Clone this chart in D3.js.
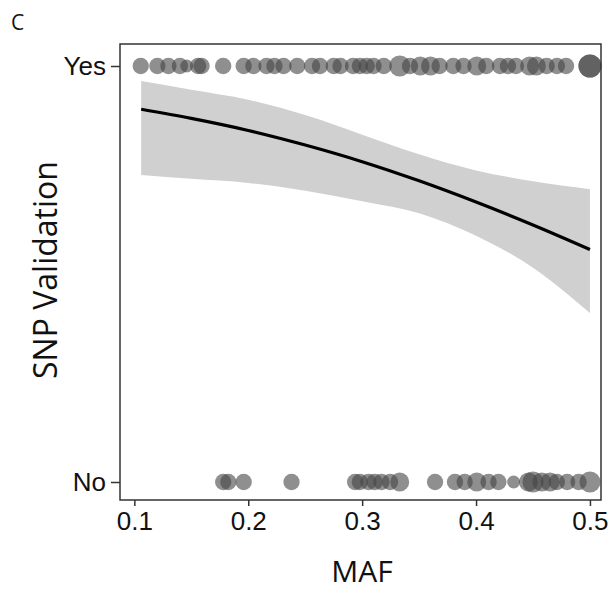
<!DOCTYPE html>
<html>
<head>
<meta charset="utf-8">
<script src="https://cdn.jsdelivr.net/npm/d3@7"></script>
<style>
  body { margin: 0; background: #fff; }
  svg { font-family: "Open Sans", sans-serif; }
</style>
</head>
<body>
<div id="chart"></div>
<script>
// SNP validated (Yes) / not validated (No) by MAF, size = read depth class
const yesMaf = [0.1056, 0.1202, 0.1299, 0.140, 0.146, 0.156, 0.159, 0.178, 0.196, 0.2045,
  0.216, 0.223, 0.231, 0.243, 0.256, 0.263, 0.275, 0.281, 0.292, 0.298,
  0.304, 0.310, 0.319, 0.333, 0.342, 0.351, 0.360, 0.368, 0.380, 0.389,
  0.4006, 0.409, 0.421, 0.428, 0.435, 0.447, 0.453, 0.462, 0.471, 0.479, 0.5, 0.5]
const yesSize = [2, 2, 2, 2, 1, 2, 2, 2, 2, 2,
  2, 2, 2, 2, 2, 2, 2, 2, 2, 2,
  2, 2, 2, 4, 2, 3, 3, 2, 2, 2,
  3, 2, 2, 2, 2, 3, 3, 2, 2, 2, 5, 5]

const noMaf = [0.178, 0.1825, 0.196, 0.238, 0.2938, 0.298, 0.3055, 0.311, 0.317, 0.3245, 0.333,
  0.364, 0.3815, 0.390, 0.4006, 0.411, 0.4196, 0.433, 0.446, 0.450, 0.4577,
  0.465, 0.471, 0.480, 0.490, 0.500]
const noSize = [2, 2, 2, 2, 2, 2, 2, 2, 2, 2, 3,
  2, 2, 2, 3, 2, 2, 1, 3, 4, 3,
  3, 2, 2, 2, 4]

// logistic fit and confidence band
const fitMaf = [0.106, 0.15, 0.2, 0.25, 0.3, 0.35, 0.4, 0.45, 0.5]
const fitProb = [0.896, 0.874, 0.845, 0.810, 0.770, 0.724, 0.673, 0.618, 0.559]
const fitUpper = [0.964, 0.943, 0.919, 0.882, 0.835, 0.788, 0.749, 0.723, 0.704]
const fitLower = [0.738, 0.729, 0.719, 0.700, 0.675, 0.646, 0.592, 0.515, 0.406]

const xTicks = [0.1, 0.2, 0.3, 0.4, 0.5]
const yLabels = ["No", "Yes"]

const dimensions = {
  width: 612,
  height: 592,
  margin: { top: 44, right: 11, bottom: 92, left: 120 },
}
dimensions.boundedWidth = dimensions.width - dimensions.margin.left - dimensions.margin.right
dimensions.boundedHeight = dimensions.height - dimensions.margin.top - dimensions.margin.bottom

const wrapper = d3.select("#chart")
  .append("svg")
  .attr("width", dimensions.width)
  .attr("height", dimensions.height)

const bounds = wrapper.append("g")
  .attr("transform", `translate(${dimensions.margin.left},${dimensions.margin.top})`)

const xScale = d3.scaleLinear()
  .domain([0.0874, 0.5097])
  .range([0, dimensions.boundedWidth])
const yScale = d3.scaleLinear()
  .domain([0, 1])
  .range([438, 22])
const rScale = d3.scaleSqrt()
  .domain([1, 5])
  .range([6.5, 11.5])

// confidence band
const fitData = fitMaf.map((m, i) => ({ maf: m, p: fitProb[i], lo: fitLower[i], hi: fitUpper[i] }))

bounds.append("path")
  .datum(fitData)
  .attr("fill", "#d0d0d0")
  .attr("d", d3.area()
    .x(d => xScale(d.maf))
    .y0(d => yScale(d.lo))
    .y1(d => yScale(d.hi))
    .curve(d3.curveMonotoneX))

bounds.append("path")
  .datum(fitData)
  .attr("fill", "none")
  .attr("stroke", "#000")
  .attr("stroke-width", 3.2)
  .attr("d", d3.line()
    .x(d => xScale(d.maf))
    .y(d => yScale(d.p))
    .curve(d3.curveMonotoneX))

// points
const points = yesMaf.map((m, i) => ({ maf: m, v: 1, size: yesSize[i] }))
  .concat(noMaf.map((m, i) => ({ maf: m, v: 0, size: noSize[i] })))

bounds.selectAll("circle")
  .data(points)
  .join("circle")
  .attr("cx", d => xScale(d.maf))
  .attr("cy", d => yScale(d.v))
  .attr("r", d => rScale(d.size))
  .attr("fill", "#444")
  .attr("fill-opacity", 0.6)

// panel border
bounds.append("rect")
  .attr("width", dimensions.boundedWidth)
  .attr("height", dimensions.boundedHeight)
  .attr("fill", "none")
  .attr("stroke", "#333")
  .attr("stroke-width", 1.5)

const xAxis = bounds.append("g")
  .attr("transform", `translate(0,${dimensions.boundedHeight})`)
  .call(d3.axisBottom(xScale).tickValues(xTicks).tickSize(6).tickPadding(6).tickFormat(d3.format(".1f")))
xAxis.select(".domain").remove()
xAxis.selectAll("line").attr("stroke", "#333").attr("stroke-width", 1.5)
xAxis.selectAll("text").attr("fill", "#111").style("font-size", "26px")

const yAxis = bounds.append("g")
  .call(d3.axisLeft(yScale).tickValues([0, 1]).tickSize(9).tickPadding(5).tickFormat(d => yLabels[d]))
yAxis.select(".domain").remove()
yAxis.selectAll("line").attr("stroke", "#333").attr("stroke-width", 1.5)
yAxis.selectAll("text").attr("fill", "#111").style("font-size", "26px")

wrapper.append("text")
  .attr("x", 362)
  .attr("y", 582)
  .attr("text-anchor", "middle")
  .attr("fill", "#111")
  .style("font-size", "30px")
  .text("MAF")

wrapper.append("text")
  .attr("transform", "translate(57,270) rotate(-90)")
  .attr("text-anchor", "middle")
  .attr("fill", "#111")
  .style("font-size", "32px")
  .text("SNP Validation")

wrapper.append("text")
  .attr("x", 11)
  .attr("y", 30)
  .attr("fill", "#111")
  .style("font-size", "21px")
  .text("C")
</script>
</body>
</html>
